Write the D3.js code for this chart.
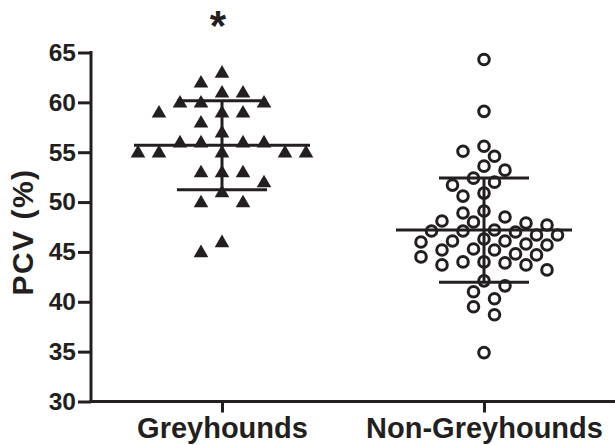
<!DOCTYPE html>
<html>
<head>
<meta charset="utf-8">
<script src="https://cdn.jsdelivr.net/npm/d3@7"></script>
<style>
  body { margin: 0; background: #fff; }
  text { font-family: "Liberation Sans", Arial, Helvetica, sans-serif; font-weight: bold; fill: #231f20; }
</style>
</head>
<body>
<svg id="chart" width="615" height="445"></svg>
<script>
// PCV (%) per dog
var categories = ['Greyhounds', 'Non-Greyhounds'];
var greyhounds = [63, 62, 61, 61, 60, 60, 60, 59, 59, 59, 58, 57, 56, 56, 56, 56,
  55, 55, 55, 55, 55, 53, 53, 53, 52, 51, 50, 50, 46, 45];
var nonGreyhounds = [64.3, 59.1, 55.6, 55.1, 54.6, 53.6, 53.2, 52.4, 52.0, 51.7,
  50.9, 50.6, 49.1, 48.9, 48.5, 48.1, 48.0, 47.9, 47.7, 47.2, 47.1, 47.1, 47.0,
  46.7, 46.7, 46.3, 46.1, 46.1, 46.0, 45.8, 45.7, 45.3, 45.2, 45.2, 44.8, 44.7,
  44.5, 44.0, 44.0, 43.9, 43.7, 43.7, 43.2, 42.1, 41.6, 41.0, 40.3, 39.5, 38.7, 34.9];
var yTicks = [30, 35, 40, 45, 50, 55, 60, 65];
var significant = ['*', ''];

var ink = '#231f20';
var svg = d3.select('#chart');

var x = d3.scalePoint().domain(categories).range([91, 615]).padding(0.5);
var y = d3.scaleLinear().domain([30, 65]).range([401.5, 52.5]);

// y axis
var yAxis = svg.append('g')
  .attr('transform', 'translate(91,0)')
  .call(d3.axisLeft(y).tickValues(yTicks).tickSize(13).tickPadding(2));
yAxis.select('.domain').attr('stroke', ink).attr('stroke-width', 3)
  .attr('d', 'M0,' + (y(65) - 1.5) + 'V' + y(30));
yAxis.selectAll('.tick line').attr('stroke', ink).attr('stroke-width', 3);
yAxis.selectAll('.tick text').attr('font-size', 24.5).attr('fill', ink)
  .attr('font-family', '"Liberation Sans", Arial, sans-serif').attr('font-weight', 'bold');

// x axis
var xAxis = svg.append('g')
  .attr('transform', 'translate(0,' + y(30) + ')')
  .call(d3.axisBottom(x).tickSize(11).tickPadding(5));
xAxis.select('.domain').attr('stroke', ink).attr('stroke-width', 3)
  .attr('d', 'M89.5,0H615');
xAxis.selectAll('.tick line').attr('stroke', ink).attr('stroke-width', 3);
xAxis.selectAll('.tick text').attr('font-size', 29).attr('fill', ink)
  .attr('font-family', '"Liberation Sans", Arial, sans-serif').attr('font-weight', 'bold');

svg.append('text')
  .attr('transform', 'translate(33,' + 232 + ') rotate(-90)')
  .attr('text-anchor', 'middle')
  .attr('font-size', 30)
  .attr('letter-spacing', 1.5)
  .text('PCV (%)');

// simple beeswarm: each point goes to the free column nearest the centre
function swarm(values, cx, minDist) {
  var step = 10.5;
  var placed = [];
  values.slice().sort(d3.descending).forEach(function(v, i) {
    var py = y(v);
    for (var k = 0; k < 40; k++) {
      var tries = k === 0 ? [0] : (i % 2 ? [-k, k] : [k, -k]);
      var hit = tries.find(function(t) {
        var px = cx + t * step;
        return placed.every(function(p) {
          return Math.hypot(p.x - px, p.y - py) >= minDist;
        });
      });
      if (hit !== undefined) {
        placed.push({ x: cx + hit * step, y: py, v: v });
        return;
      }
    }
  });
  return placed;
}

var gPts = swarm(greyhounds, x('Greyhounds'), 14.5);
var nPts = swarm(nonGreyhounds, x('Non-Greyhounds'), 13.3);

svg.append('g').selectAll('path')
  .data(gPts)
  .join('path')
  .attr('transform', function(d) { return 'translate(' + d.x + ',' + (d.y + 1) + ')'; })
  .attr('d', d3.symbol().type(d3.symbolTriangle).size(92))
  .attr('fill', ink);

svg.append('g').selectAll('circle')
  .data(nPts)
  .join('circle')
  .attr('cx', function(d) { return d.x; })
  .attr('cy', function(d) { return d.y; })
  .attr('r', 5.3)
  .attr('fill', '#fff')
  .attr('stroke', ink)
  .attr('stroke-width', 3);

// mean and SD bars
[greyhounds, nonGreyhounds].forEach(function(vals, i) {
  var cx = x(categories[i]);
  var m = d3.mean(vals), sd = d3.deviation(vals);
  var g = svg.append('g').attr('stroke', ink).attr('stroke-width', 3);
  g.append('line').attr('x1', cx - 88).attr('x2', cx + 88).attr('y1', y(m)).attr('y2', y(m));
  g.append('line').attr('x1', cx).attr('x2', cx).attr('y1', y(m - sd)).attr('y2', y(m + sd));
  g.append('line').attr('x1', cx - 45).attr('x2', cx + 45).attr('y1', y(m + sd)).attr('y2', y(m + sd));
  g.append('line').attr('x1', cx - 45).attr('x2', cx + 45).attr('y1', y(m - sd)).attr('y2', y(m - sd));
});

svg.append('g').selectAll('text')
  .data(categories)
  .join('text')
  .attr('x', function(d) { return x(d) - 4; })
  .attr('y', 40)
  .attr('text-anchor', 'middle')
  .attr('font-size', 42)
  .text(function(d, i) { return significant[i]; });
</script>
</body>
</html>
